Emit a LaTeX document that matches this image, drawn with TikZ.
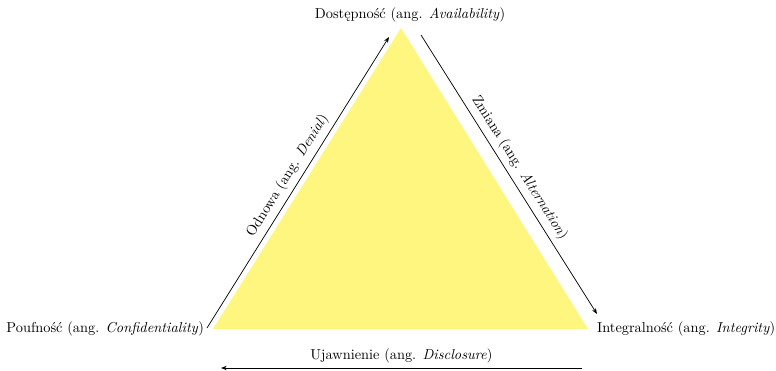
\documentclass[tikz,border=0pt]{standalone}
\usepackage{fontspec}
\usepackage{tikz}
\usetikzlibrary{arrows.meta,positioning}
\definecolor{ciaFill}{HTML}{FFF67F}
\definecolor{ciaInk}{HTML}{000000}
\tikzset{
  cia diagram/.style={x=0.02448cm, y=-0.02448cm, text=ciaInk},
  cia area/.style={fill=ciaFill, draw=none},
  cia label/.style={inner sep=2pt},
  cia arrow/.style={-{Stealth[length=4pt]}, draw=ciaInk, line width=0.5pt}
}

\begin{document}
\begin{tikzpicture}[cia diagram]
\useasboundingbox (0,0) rectangle (776,371);
% corners of the triangle
\coordinate (avail) at (401,28);
\coordinate (conf) at (213,329);
\coordinate (integ) at (588,329);
\fill[cia area] (avail) -- (integ) -- (conf) -- cycle;
% corner labels
\node[cia label] (availText) at (410,15) {Dostępność (ang. \textit{Availability})};
\node[cia label,anchor=east] (confText) at (207,329) {Poufność (ang. \textit{Confidentiality})};
\node[cia label,anchor=west] (integText) at (594,329) {Integralność (ang. \textit{Integrity})};
% arrow ends
\coordinate (denialStart) at (207,328);
\coordinate (denialEnd) at (389,37);
\coordinate (alterStart) at (421,35);
\coordinate (alterEnd) at (597,314);
\coordinate (disclStart) at (582,368);
\coordinate (disclEnd) at (221,368);
\draw[cia arrow] (denialStart) -- (denialEnd)
  node[midway,above,sloped] (denialText) {Odnowa (ang. \textit{Denial})};
\draw[cia arrow] (alterStart) -- (alterEnd)
  node[midway,above,sloped] (alterText) {Zmiana (ang. \textit{Alternation})};
\draw[cia arrow] (disclStart) -- (disclEnd)
  node[midway,above] (disclText) {Ujawnienie (ang. \textit{Disclosure})};
\end{tikzpicture}
\end{document}
